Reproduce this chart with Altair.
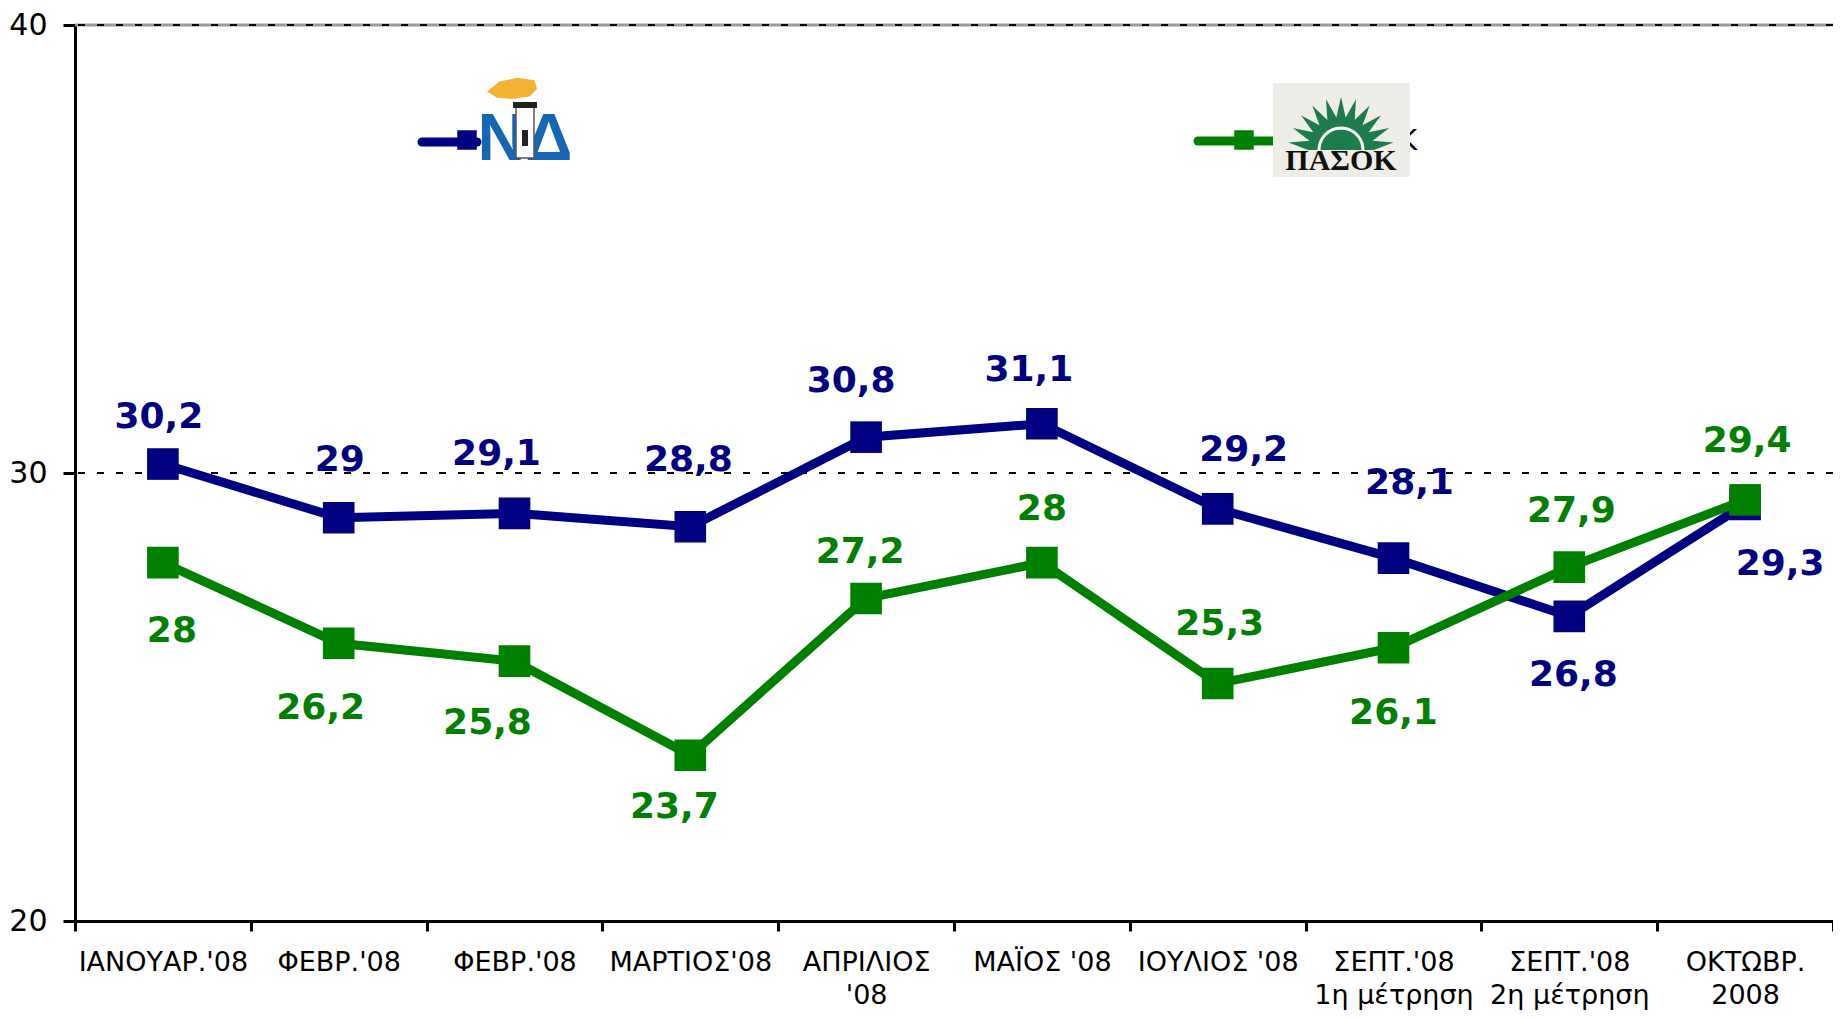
import json
import math
import altair as alt
import pandas as pd

# ---------------- data ----------------
CATEGORIES = [
    "ΙΑΝΟΥΑΡ.'08", "ΦΕΒΡ.'08", "ΦΕΒΡ.'08", "ΜΑΡΤΙΟΣ'08", "ΑΠΡΙΛΙΟΣ\n'08",
    "ΜΑΪΟΣ '08", "ΙΟΥΛΙΟΣ '08", "ΣΕΠΤ.'08\n1η μέτρηση", "ΣΕΠΤ.'08\n2η μέτρηση",
    "ΟΚΤΩΒΡ.\n2008",
]
ND = [30.2, 29, 29.1, 28.8, 30.8, 31.1, 29.2, 28.1, 26.8, 29.3]
PASOK = [28, 26.2, 25.8, 23.7, 27.2, 28, 25.3, 26.1, 27.9, 29.4]
Y_TICKS = [20, 30, 40]
GRID_LINES = [30, 40]

# ---------------- label placement (style, pixels) ----------------
ND_DX = [-4, 1, -18, -2, -15, -13, 26, 16, 4, 35]
ND_DY = [-47, -58, -59, -67, -56, -54, -59, -75, 59, 60]
PA_DX = [9, -18, -27, -16, -6, 0, 2, 0, 2, 2]
PA_DY = [68, 65, 62, 52, -46, -54, -60, 65, -56, -59]

ND_COLOR = "#000080"
PA_COLOR = "#008000"


def fmt(v):
    return f"{v:g}".replace(".", ",")


def frame(vals, dxs, dys):
    return pd.DataFrame({
        "i": list(range(len(vals))),
        "v": vals,
        "label": [fmt(v) for v in vals],
        "dx": dxs,
        "dy": dys,
    })


nd_df = frame(ND, ND_DX, ND_DY)
pa_df = frame(PASOK, PA_DX, PA_DY)
grid_df = pd.DataFrame({"v": GRID_LINES})
top_df = pd.DataFrame({"v": [40]})
one = pd.DataFrame({"k": [0]})

W, H = 1758, 896
TOP = 17

cat_js = json.dumps(CATEGORIES, ensure_ascii=False)
label_expr = (
    f"isString({cat_js}[datum.value]) ? split({cat_js}[datum.value], '\\n') : ''"
)

x_enc = alt.X(
    "i:O",
    scale=alt.Scale(type="band", paddingInner=0, paddingOuter=0),
    axis=alt.Axis(
        title=None, labelExpr=label_expr, tickBand="extent", labelAngle=0,
        labelFont="DejaVu Sans", labelFontSize=27, labelColor="black",
        labelLineHeight=33, labelPadding=18, labelBaseline="top",
        tickSize=10, tickWidth=3, tickColor="black",
        domainColor="black", domainWidth=3, labelOverlap=False, grid=False,
    ),
)
y_enc = alt.Y(
    "v:Q",
    scale=alt.Scale(domain=[20, 40], nice=False, zero=False),
    axis=alt.Axis(
        title=None, values=Y_TICKS, grid=False, tickSize=12, tickWidth=3,
        tickColor="black", domainColor="black", domainWidth=3,
        labelFont="DejaVu Sans", labelFontSize=30, labelColor="black",
        labelPadding=16,
    ),
)

top_rule = alt.Chart(top_df).mark_rule(color="#9a9a9a", strokeWidth=3).encode(y=y_enc)
grid = alt.Chart(grid_df).mark_rule(color="black", strokeWidth=2, strokeDash=[7, 12]).encode(y=y_enc)


def series(df, color):
    line = alt.Chart(df).mark_line(color=color, strokeWidth=9).encode(x=x_enc, y=y_enc)
    pts = alt.Chart(df).mark_square(size=1000, color=color, opacity=1).encode(x=x_enc, y=y_enc)
    return [line, pts]


def texts(df, color):
    return alt.Chart(df).mark_text(
        font="DejaVu Sans", fontSize=36, fontWeight="bold", color=color,
        align="center", baseline="middle",
        dx=alt.ExprRef("datum.dx"), dy=alt.ExprRef("datum.dy"),
    ).encode(x=x_enc, y=y_enc, text="label:N")


# ---------------- legend decorations ----------------
def pts_path(points):
    return "M " + " L ".join(f"{x:.3f} {y:.3f}" for x, y in points) + " Z"


n_rays = 11
sun_pts = []
for j in range(2 * n_rays + 1):
    a = math.pi + math.pi * j / (2 * n_rays)
    r = 1.0 if j % 2 == 1 else 0.62
    sun_pts.append((r * math.cos(a), r * math.sin(a)))
SUN_PATH = pts_path(sun_pts)
arc_pts = [(math.cos(math.pi + math.pi * k / 24), math.sin(math.pi + math.pi * k / 24)) for k in range(25)]
ARC_PATH = "M " + " L ".join(f"{x:.3f} {y:.3f}" for x, y in arc_pts)
FLAME_PATH = "M -1 0.1 L -0.5 -0.3 L 0.2 -0.45 L 0.9 -0.35 L 1 0 L 0.7 0.3 L 0 0.4 L -0.6 0.35 Z"

dy0 = 22 - (8 + TOP)  # keep legend at its page position

legend = [
    # ND entry
    alt.Chart(one).mark_rule(color=ND_COLOR, strokeWidth=9, strokeCap="round").encode(
        x=alt.value(347), x2=alt.value(402), y=alt.value(120 + dy0)),
    alt.Chart(one).mark_square(size=380, color=ND_COLOR, opacity=1).encode(
        x=alt.value(392), y=alt.value(118 + dy0)),
    alt.Chart(one).mark_text(text="ΝΔ", font="Liberation Sans", fontWeight="bold", fontSize=66,
                             color="#1766b3", align="center", baseline="alphabetic").encode(
        x=alt.value(450), y=alt.value(138 + dy0)),
    alt.Chart(one).mark_rect(fill="white", stroke="#555555", strokeWidth=1.5).encode(
        x=alt.value(441), x2=alt.value(459), y=alt.value(84 + dy0), y2=alt.value(136 + dy0)),
    alt.Chart(one).mark_rect(fill="#222222").encode(
        x=alt.value(438), x2=alt.value(462), y=alt.value(80 + dy0), y2=alt.value(86 + dy0)),
    alt.Chart(one).mark_rect(fill="#222222").encode(
        x=alt.value(447), x2=alt.value(453), y=alt.value(108 + dy0), y2=alt.value(124 + dy0)),
    alt.Chart(one).mark_point(shape=FLAME_PATH, filled=True, color="#f4b233", size=2500, opacity=1).encode(
        x=alt.value(437), y=alt.value(67 + dy0)),
    # PASOK entry
    alt.Chart(one).mark_text(text="ΠΑΣΟΚ", font="DejaVu Sans", fontSize=28, color="black",
                             align="right", baseline="middle").encode(
        x=alt.value(1342), y=alt.value(120 + dy0)),
    alt.Chart(one).mark_rule(color=PA_COLOR, strokeWidth=9, strokeCap="round").encode(
        x=alt.value(1123), x2=alt.value(1198), y=alt.value(119 + dy0)),
    alt.Chart(one).mark_square(size=380, color=PA_COLOR, opacity=1).encode(
        x=alt.value(1169), y=alt.value(118 + dy0)),
    alt.Chart(one).mark_rect(fill="#efede8").encode(
        x=alt.value(1198), x2=alt.value(1335), y=alt.value(61 + dy0), y2=alt.value(155 + dy0)),
    alt.Chart(one).mark_point(shape=SUN_PATH, filled=True, color="#1e7b4b", size=11236, opacity=1).encode(
        x=alt.value(1266), y=alt.value(128 + dy0)),
    alt.Chart(one).mark_point(shape=ARC_PATH, filled=False, color="white", strokeWidth=3,
                              size=1936, opacity=1).encode(
        x=alt.value(1266), y=alt.value(128 + dy0)),
    alt.Chart(one).mark_text(text="ΠΑΣΟΚ", font="Liberation Serif", fontWeight="bold", fontSize=30,
                             color="#111111", align="center", baseline="alphabetic").encode(
        x=alt.value(1266), y=alt.value(148 + dy0)),
]

layers = [top_rule, grid] + series(nd_df, ND_COLOR) + series(pa_df, PA_COLOR) + \
    [texts(nd_df, ND_COLOR), texts(pa_df, PA_COLOR)] + legend

chart = alt.layer(*layers).properties(
    width=W, height=H,
    padding={"left": 67, "top": TOP, "right": 0, "bottom": 91},
    autosize=alt.AutoSizeParams(type="none"),
).configure_view(stroke=None)

chart.save("out.html", embed_options={"renderer": "svg", "actions": False})
